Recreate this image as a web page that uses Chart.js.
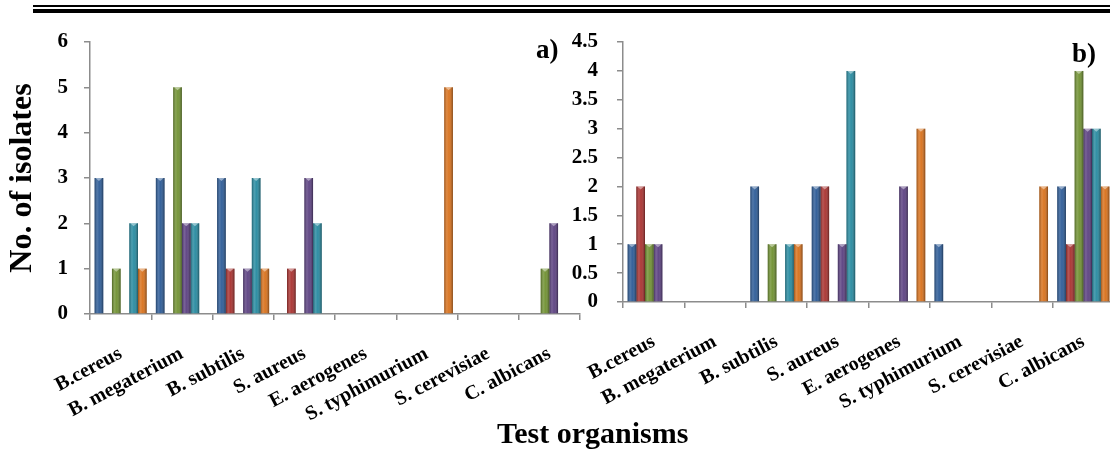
<!DOCTYPE html>
<html>
<head>
<meta charset="utf-8">
<script src="https://cdn.jsdelivr.net/npm/chart.js@4.4.1/dist/chart.umd.min.js"></script>
<style>
    html, body { margin: 0; padding: 0; background: #fff; overflow: hidden; }
    body { width: 1110px; height: 450px; position: relative; font-family: 'Liberation Serif', 'Times New Roman', serif; }
    .rule { position: absolute; left: 33px; right: 0; background: #000; }
    .wrap { position: absolute; top: 0; height: 450px; }
    .panel-tag { position: absolute; font-weight: bold; font-size: 27px; line-height: 1; }
    #xTitle { position: absolute; left: 497px; top: 418px; font-weight: bold; font-size: 30px; line-height: 1; white-space: nowrap; }
</style>
</head>
<body>
<div class="rule" style="top:5px;height:2px"></div>
<div class="rule" style="top:9px;height:4px"></div>

<div class="wrap" style="left:0;width:585px"><canvas id="chartA"></canvas></div>
<div class="wrap" style="left:560px;width:560px"><canvas id="chartB"></canvas></div>

<div class="panel-tag" style="left:536px;top:36px">a)</div>
<div class="panel-tag" style="left:1072px;top:40px">b)</div>
<div id="xTitle">Test organisms</div>

<script>
// 菌株名称
const organisms = ['B.cereus', 'B. megaterium', 'B. subtilis', 'S. aureus',
    'E. aerogenes', 'S. typhimurium', 'S. cerevisiae', 'C. albicans'];

// a) 分离株数量
const blueA   = [3, 3, 3, 0, 0, 0, 0, 0];
const redA    = [0, 0, 1, 1, 0, 0, 0, 0];
const greenA  = [1, 5, 0, 0, 0, 0, 0, 1];
const purpleA = [0, 2, 1, 3, 0, 0, 0, 2];
const cyanA   = [2, 2, 3, 2, 0, 0, 0, 0];
const orangeA = [1, 0, 1, 0, 0, 5, 0, 0];

// b) 分离株数量
const blueB   = [1, 0, 2, 2, 0, 1, 0, 2];
const redB    = [2, 0, 0, 2, 0, 0, 0, 1];
const greenB  = [1, 0, 1, 0, 0, 0, 0, 4];
const purpleB = [1, 0, 0, 1, 2, 0, 0, 3];
const cyanB   = [0, 0, 1, 4, 0, 0, 0, 3];
const orangeB = [0, 0, 1, 0, 3, 0, 2, 2];

const colors = ['#2b5a96', '#a8302e', '#6f9030', '#5a3f80', '#25899f', '#d8701a'];
const FONT = "'Liberation Serif', 'Times New Roman', serif";

// 柱子的立体效果（左右渐变 + 顶部高光）
const cylinderPlugin = {
    id: 'cylinder',
    afterDatasetsDraw(chart) {
        const ctx = chart.ctx;
        chart.data.datasets.forEach((ds, di) => {
            const meta = chart.getDatasetMeta(di);
            meta.data.forEach((bar, i) => {
                if (!ds.data[i]) return;
                const p = bar.getProps(['x', 'y', 'base', 'width'], true);
                const left = p.x - p.width / 2;
                const right = p.x + p.width / 2;
                const g = ctx.createLinearGradient(left, 0, right, 0);
                g.addColorStop(0, 'rgba(0,0,0,0.30)');
                g.addColorStop(0.3, 'rgba(255,255,255,0.18)');
                g.addColorStop(0.55, 'rgba(255,255,255,0.05)');
                g.addColorStop(1, 'rgba(0,0,0,0.40)');
                ctx.save();
                ctx.fillStyle = g;
                ctx.fillRect(left, p.y, p.width, p.base - p.y);
                ctx.fillStyle = 'rgba(255,255,255,0.45)';
                ctx.beginPath();
                ctx.moveTo(left + 1, p.y);
                ctx.lineTo(right - 1, p.y);
                ctx.lineTo(p.x, p.y + 3);
                ctx.closePath();
                ctx.fill();
                ctx.restore();
            });
        });
    }
};

function makeChart(id, series, yMax, yStep, yWidth, xHeight, padRight, yPad, withTitle) {
    const ctx = document.getElementById(id).getContext('2d');
    return new Chart(ctx, {
        type: 'bar',
        data: {
            labels: organisms,
            datasets: series.map((s, k) => ({
                label: 'Series ' + (k + 1),
                data: s,
                backgroundColor: colors[k],
                borderWidth: 0,
                categoryPercentage: 0.85,
                barPercentage: 1
            }))
        },
        options: {
            responsive: true,
            maintainAspectRatio: false,
            animation: false,
            layout: { padding: { top: 42, right: padRight, left: 0, bottom: 0 } },
            plugins: { legend: { display: false }, tooltip: { enabled: false } },
            scales: {
                x: {
                    afterFit: sc => { sc.height = xHeight; },
                    grid: { drawOnChartArea: false, color: '#8c8c8c', tickLength: 6, lineWidth: 1.5 },
                    border: { color: '#8c8c8c', width: 1.5 },
                    ticks: {
                        autoSkip: false,
                        minRotation: 28, maxRotation: 28,
                        padding: 22,
                        color: '#000',
                        font: { family: FONT, size: 20, weight: 'bold' }
                    }
                },
                y: {
                    min: 0, max: yMax,
                    afterFit: sc => { sc.width = yWidth; },
                    grid: { drawOnChartArea: false, color: '#8c8c8c', tickLength: 6, lineWidth: 1.5 },
                    border: { color: '#8c8c8c', width: 1.5 },
                    ticks: {
                        stepSize: yStep,
                        padding: yPad,
                        color: '#000',
                        callback: v => String(v),
                        font: { family: FONT, size: 21, weight: 'bold' }
                    },
                    title: {
                        display: withTitle,
                        text: 'No. of isolates',
                        color: '#000',
                        padding: { top: 4, bottom: 0 },
                        font: { family: FONT, size: 32, weight: 'bold' }
                    }
                }
            }
        },
        plugins: [cylinderPlugin]
    });
}

document.addEventListener('DOMContentLoaded', () => {
    // 画布高 450：a 的横轴在 314，b 的横轴在 302
    makeChart('chartA', [blueA, redA, greenA, purpleA, cyanA, orangeA], 6, 1, 90, 136, 5, 16, true);
    makeChart('chartB', [blueB, redB, greenB, purpleB, cyanB, orangeB], 4.5, 0.5, 63, 148, 6, 19, false);
});
</script>
</body>
</html>
